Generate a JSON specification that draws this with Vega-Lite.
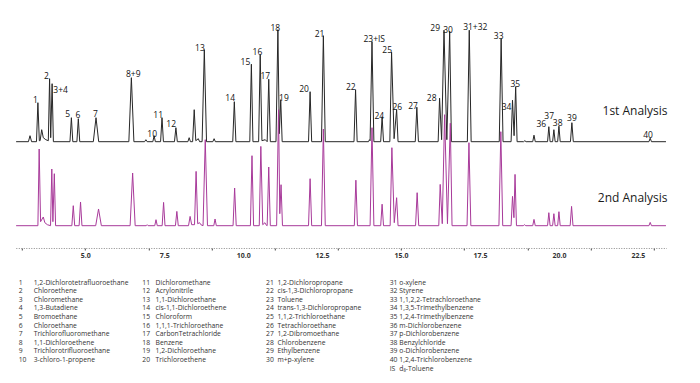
{
  "$schema": "https://vega.github.io/schema/vega-lite/v6.json",
  "padding": {"left": 13.8, "top": 0, "right": 0, "bottom": 0},
  "background": "white",
  "config": {"view": {"stroke": null}, "font": "Open Sans", "axis": {"labelOverlap": false}},
  "datasets": {
    "run1": [
      {"time":2.81,"signal":0},
      {"time":3.2,"signal":0},{"time":3.25,"signal":6},{"time":3.3,"signal":0},
      {"time":3.455,"signal":0},{"time":3.5,"signal":39},{"time":3.545,"signal":1},
      {"time":3.57,"signal":1},{"time":3.62,"signal":12},{"time":3.67,"signal":4},{"time":3.75,"signal":2},{"time":3.83,"signal":1},
      {"time":3.87,"signal":63},{"time":3.905,"signal":4},{"time":3.95,"signal":58},{"time":3.99,"signal":0},
      {"time":4.515,"signal":0},{"time":4.56,"signal":24},{"time":4.605,"signal":0},
      {"time":4.735,"signal":0},{"time":4.78,"signal":23},{"time":4.825,"signal":0},
      {"time":5.255,"signal":0},{"time":5.34,"signal":24},{"time":5.425,"signal":0},
      {"time":6.38,"signal":0},{"time":6.46,"signal":64},{"time":6.54,"signal":0},
      {"time":6.88,"signal":0},{"time":6.92,"signal":2},{"time":6.96,"signal":0},
      {"time":7.14,"signal":0},{"time":7.18,"signal":6},{"time":7.22,"signal":0},
      {"time":7.385,"signal":0},{"time":7.43,"signal":24},{"time":7.475,"signal":0},
      {"time":7.825,"signal":0},{"time":7.87,"signal":14},{"time":7.915,"signal":0},
      {"time":8.25,"signal":0},{"time":8.29,"signal":4},{"time":8.33,"signal":0},
      {"time":8.4,"signal":0},{"time":8.45,"signal":32},{"time":8.5,"signal":1},{"time":8.58,"signal":3},{"time":8.62,"signal":0},
      {"time":8.7,"signal":0},{"time":8.77,"signal":92},{"time":8.84,"signal":0},
      {"time":9.04,"signal":0},{"time":9.08,"signal":3},{"time":9.12,"signal":0},
      {"time":9.67,"signal":0},{"time":9.72,"signal":40},{"time":9.77,"signal":0},
      {"time":10.21,"signal":0},{"time":10.26,"signal":77.5},{"time":10.31,"signal":0},
      {"time":10.49,"signal":0},{"time":10.54,"signal":87},{"time":10.595,"signal":1},{"time":10.7,"signal":2},{"time":10.76,"signal":0},{"time":10.81,"signal":62.5},{"time":10.86,"signal":0},
      {"time":11.04,"signal":0},{"time":11.1,"signal":112},{"time":11.145,"signal":8},{"time":11.19,"signal":42},{"time":11.235,"signal":0},
      {"time":12.07,"signal":0},{"time":12.12,"signal":50},{"time":12.17,"signal":0},
      {"time":12.48,"signal":0},{"time":12.54,"signal":106},{"time":12.6,"signal":0},
      {"time":13.51,"signal":0},{"time":13.56,"signal":52},{"time":13.61,"signal":0},
      {"time":13.97,"signal":0},{"time":14.0,"signal":2},{"time":14.02,"signal":1},{"time":14.08,"signal":100},{"time":14.14,"signal":0},
      {"time":14.355,"signal":0},{"time":14.4,"signal":25},{"time":14.445,"signal":0},
      {"time":14.645,"signal":0},{"time":14.7,"signal":89.5},{"time":14.78,"signal":3},{"time":14.86,"signal":32},{"time":14.905,"signal":0},
      {"time":15.45,"signal":0},{"time":15.5,"signal":34.5},{"time":15.55,"signal":0},
      {"time":16.175,"signal":0},{"time":16.22,"signal":43.5},{"time":16.285,"signal":2},{"time":16.36,"signal":111.5},{"time":16.45,"signal":2},{"time":16.54,"signal":110.5},{"time":16.595,"signal":0},
      {"time":17.1,"signal":0},{"time":17.16,"signal":111.5},{"time":17.22,"signal":0},
      {"time":18.11,"signal":0},{"time":18.17,"signal":103},{"time":18.23,"signal":0},
      {"time":18.485,"signal":0},{"time":18.53,"signal":41.5},{"time":18.58,"signal":6},{"time":18.63,"signal":55},{"time":18.675,"signal":0},
      {"time":18.88,"signal":0},{"time":18.92,"signal":1},{"time":18.96,"signal":0},
      {"time":19.17,"signal":0},{"time":19.21,"signal":6.5},{"time":19.25,"signal":0},
      {"time":19.64,"signal":0},{"time":19.68,"signal":15},{"time":19.72,"signal":0},
      {"time":19.8,"signal":0},{"time":19.84,"signal":12},{"time":19.88,"signal":0},
      {"time":19.96,"signal":0},{"time":20.0,"signal":15.5},{"time":20.04,"signal":0},
      {"time":20.365,"signal":0},{"time":20.41,"signal":19},{"time":20.455,"signal":0},
      {"time":22.85,"signal":0},{"time":22.89,"signal":3.5},{"time":22.93,"signal":0},
      {"time":23.39,"signal":0}
    ],
    "run2": [
      {"time":2.81,"signal":0},
      {"time":3.5,"signal":0},{"time":3.54,"signal":76.7},{"time":3.585,"signal":4},{"time":3.67,"signal":8.7},{"time":3.72,"signal":3},{"time":3.8,"signal":1},
      {"time":3.9,"signal":0},{"time":3.94,"signal":56.7},{"time":3.975,"signal":4},{"time":4.02,"signal":52},{"time":4.06,"signal":0},
      {"time":4.575,"signal":0},{"time":4.62,"signal":20},{"time":4.665,"signal":0},
      {"time":4.805,"signal":0},{"time":4.85,"signal":23.7},{"time":4.895,"signal":0},
      {"time":5.33,"signal":0},{"time":5.42,"signal":16.7},{"time":5.51,"signal":0},
      {"time":6.42,"signal":0},{"time":6.5,"signal":52.7},{"time":6.58,"signal":0},
      {"time":6.93,"signal":0},{"time":6.96,"signal":1},{"time":6.99,"signal":0},
      {"time":7.2,"signal":0},{"time":7.24,"signal":6},{"time":7.28,"signal":0},
      {"time":7.435,"signal":0},{"time":7.48,"signal":23.3},{"time":7.525,"signal":0},
      {"time":7.855,"signal":0},{"time":7.9,"signal":14.3},{"time":7.945,"signal":0},
      {"time":8.27,"signal":0},{"time":8.32,"signal":9.3},{"time":8.37,"signal":1},{"time":8.46,"signal":1},{"time":8.51,"signal":54.3},{"time":8.56,"signal":2},{"time":8.62,"signal":3},{"time":8.66,"signal":1},
      {"time":8.73,"signal":0},{"time":8.8,"signal":86},{"time":8.87,"signal":0},
      {"time":9.07,"signal":0},{"time":9.11,"signal":6.7},{"time":9.15,"signal":0},
      {"time":9.68,"signal":0},{"time":9.73,"signal":37.7},{"time":9.78,"signal":0},
      {"time":10.23,"signal":0},{"time":10.28,"signal":70},{"time":10.33,"signal":0},
      {"time":10.51,"signal":0},{"time":10.56,"signal":79.3},{"time":10.62,"signal":1},{"time":10.69,"signal":3},{"time":10.72,"signal":1},{"time":10.76,"signal":0},{"time":10.81,"signal":58.7},{"time":10.86,"signal":0},
      {"time":11.06,"signal":0},{"time":11.12,"signal":116},{"time":11.16,"signal":12},{"time":11.2,"signal":41},{"time":11.245,"signal":0},
      {"time":12.07,"signal":0},{"time":12.12,"signal":47},{"time":12.17,"signal":0},
      {"time":12.48,"signal":0},{"time":12.54,"signal":96.7},{"time":12.6,"signal":0},
      {"time":13.52,"signal":0},{"time":13.57,"signal":45.5},{"time":13.62,"signal":0},
      {"time":14.02,"signal":0},{"time":14.08,"signal":98},{"time":14.14,"signal":0},
      {"time":14.355,"signal":0},{"time":14.4,"signal":21.5},{"time":14.445,"signal":0},
      {"time":14.655,"signal":0},{"time":14.71,"signal":78},{"time":14.785,"signal":3},{"time":14.86,"signal":28},{"time":14.905,"signal":0},
      {"time":15.46,"signal":0},{"time":15.51,"signal":33},{"time":15.56,"signal":0},
      {"time":16.195,"signal":0},{"time":16.24,"signal":41.3},{"time":16.305,"signal":2},{"time":16.38,"signal":111},{"time":16.47,"signal":2},{"time":16.56,"signal":102.5},{"time":16.615,"signal":0},
      {"time":17.09,"signal":0},{"time":17.15,"signal":83},{"time":17.21,"signal":0},
      {"time":18.1,"signal":0},{"time":18.16,"signal":94},{"time":18.22,"signal":0},
      {"time":18.485,"signal":0},{"time":18.53,"signal":29.3},{"time":18.575,"signal":8},{"time":18.61,"signal":51.3},{"time":18.655,"signal":0},
      {"time":18.87,"signal":0},{"time":18.91,"signal":1},{"time":18.95,"signal":0},
      {"time":19.17,"signal":0},{"time":19.21,"signal":6.3},{"time":19.25,"signal":0},
      {"time":19.64,"signal":0},{"time":19.68,"signal":13},{"time":19.72,"signal":0},
      {"time":19.8,"signal":0},{"time":19.84,"signal":12},{"time":19.88,"signal":0},
      {"time":19.96,"signal":0},{"time":20.0,"signal":14},{"time":20.04,"signal":0},
      {"time":20.355,"signal":0},{"time":20.4,"signal":19.3},{"time":20.445,"signal":0},
      {"time":22.85,"signal":0},{"time":22.89,"signal":3.3},{"time":22.93,"signal":0},
      {"time":23.39,"signal":0}
    ],
    "peaks": [
      {"label":"1","time":3.42,"signal":42.2},
      {"label":"2","time":3.77,"signal":65.8},
      {"label":"3+4","time":4.22,"signal":51.5},
      {"label":"5","time":4.44,"signal":28.2},
      {"label":"6","time":4.77,"signal":27.2},
      {"label":"7","time":5.32,"signal":28.2},
      {"label":"8+9","time":6.52,"signal":68.2},
      {"label":"10","time":7.12,"signal":7.8},
      {"label":"11","time":7.31,"signal":27.2},
      {"label":"12","time":7.72,"signal":18.2},
      {"label":"13","time":8.63,"signal":94.2},
      {"label":"14","time":9.59,"signal":44},
      {"label":"15","time":10.07,"signal":79.5},
      {"label":"16","time":10.45,"signal":89.8},
      {"label":"17","time":10.7,"signal":66.2},
      {"label":"18","time":11.02,"signal":113.8},
      {"label":"19","time":11.29,"signal":43.8},
      {"label":"20","time":11.93,"signal":52.8},
      {"label":"21","time":12.42,"signal":107.8},
      {"label":"22","time":13.41,"signal":54.8},
      {"label":"23+IS","time":14.15,"signal":102.5},
      {"label":"24","time":14.31,"signal":25.8},
      {"label":"25","time":14.56,"signal":91.8},
      {"label":"26","time":14.88,"signal":34.5},
      {"label":"27","time":15.38,"signal":36.2},
      {"label":"28","time":15.97,"signal":44.2},
      {"label":"29","time":16.08,"signal":113.5},
      {"label":"30","time":16.49,"signal":112.2},
      {"label":"31+32","time":17.35,"signal":114.8},
      {"label":"33","time":18.09,"signal":105.5},
      {"label":"34","time":18.34,"signal":34.8},
      {"label":"35","time":18.62,"signal":58.2},
      {"label":"36","time":19.44,"signal":17.5},
      {"label":"37","time":19.69,"signal":25.5},
      {"label":"38","time":19.96,"signal":18.5},
      {"label":"39","time":20.41,"signal":24.2},
      {"label":"40","time":22.82,"signal":6.8}
    ],
    "runs": [
      {"run":"1st Analysis","time":23.44,"signal":30.7},
      {"run":"2nd Analysis","time":23.44,"signal":27.4}
    ],
    "compounds": [
      {"col":0,"row":0,"no":"1","name":"1,2-Dichlorotetrafluoroethane"},
      {"col":0,"row":1,"no":"2","name":"Chloroethene"},
      {"col":0,"row":2,"no":"3","name":"Chloromethane"},
      {"col":0,"row":3,"no":"4","name":"1,3-Butadiene"},
      {"col":0,"row":4,"no":"5","name":"Bromoethane"},
      {"col":0,"row":5,"no":"6","name":"Chloroethane"},
      {"col":0,"row":6,"no":"7","name":"Trichlorofluoromethane"},
      {"col":0,"row":7,"no":"8","name":"1,1-Dichloroethene"},
      {"col":0,"row":8,"no":"9","name":"Trichlorotrifluoroethane"},
      {"col":0,"row":9,"no":"10","name":"3-chloro-1-propene"},
      {"col":1,"row":0,"no":"11","name":"Dichloromethane"},
      {"col":1,"row":1,"no":"12","name":"Acrylonitrile"},
      {"col":1,"row":2,"no":"13","name":"1,1-Dichloroethane"},
      {"col":1,"row":3,"no":"14","name":"cis-1,1-Dichloroethene"},
      {"col":1,"row":4,"no":"15","name":"Chloroform"},
      {"col":1,"row":5,"no":"16","name":"1,1,1-Trichloroethane"},
      {"col":1,"row":6,"no":"17","name":"CarbonTetrachloride"},
      {"col":1,"row":7,"no":"18","name":"Benzene"},
      {"col":1,"row":8,"no":"19","name":"1,2-Dichloroethane"},
      {"col":1,"row":9,"no":"20","name":"Trichloroethene"},
      {"col":2,"row":0,"no":"21","name":"1,2-Dichloropropane"},
      {"col":2,"row":1,"no":"22","name":"cis-1,3-Dichloropropane"},
      {"col":2,"row":2,"no":"23","name":"Toluene"},
      {"col":2,"row":3,"no":"24","name":"trans-1,3-Dichloropropane"},
      {"col":2,"row":4,"no":"25","name":"1,1,2-Trichloroethane"},
      {"col":2,"row":5,"no":"26","name":"Tetrachloroethane"},
      {"col":2,"row":6,"no":"27","name":"1,2-Dibromoethane"},
      {"col":2,"row":7,"no":"28","name":"Chlorobenzene"},
      {"col":2,"row":8,"no":"29","name":"Ethylbenzene"},
      {"col":2,"row":9,"no":"30","name":"m+p-xylene"},
      {"col":3,"row":0,"no":"31","name":"o-xylene"},
      {"col":3,"row":1,"no":"32","name":"Styrene"},
      {"col":3,"row":2,"no":"33","name":"1,1,2,2-Tetrachloroethane"},
      {"col":3,"row":3,"no":"34","name":"1,3,5-Trimethylbenzene"},
      {"col":3,"row":4,"no":"35","name":"1,2,4-Trimethylbenzene"},
      {"col":3,"row":5,"no":"36","name":"m-Dichlorobenzene"},
      {"col":3,"row":6,"no":"37","name":"p-Dichlorobenzene"},
      {"col":3,"row":7,"no":"38","name":"Benzylchloride"},
      {"col":3,"row":8,"no":"39","name":"o-Dichlorobenzene"},
      {"col":3,"row":9,"no":"40","name":"1,2,4-Trichlorobenzene"},
      {"col":3,"row":10,"no":"IS","name":"d₈-Toluene"}
    ]
  },
  "bounds": "flush",
  "spacing": 34.7,
  "vconcat": [
    {
      "width": 650.5,
      "height": 248,
      "layer": [
        {
          "layer": [
            {
              "data": {"name": "run1"},
              "mark": {"type": "line", "color": "#262626", "strokeWidth": 1},
              "encoding": {
                "x": {"field": "time", "type": "quantitative",
                  "scale": {"domain": [2.8, 23.4], "nice": false, "zero": false},
                  "axis": {"title": null, "grid": false, "orient": "bottom",
                    "values": [5, 7.5, 10, 12.5, 15, 17.5, 20, 22.5],
                    "format": ".1f",
                    "labelOverlap": false, "labelFlush": false, "labelBound": false,
                    "domain": false, "ticks": false,
                    "labelFontSize": 7, "labelColor": "#333", "labelFont": "Open Sans", "labelFontWeight": "bold", "labelPadding": 4}},
                "y": {"field": "signal", "type": "quantitative",
                  "scale": {"domain": [-106.3, 141.7], "nice": false, "zero": false}, "axis": null}
              }
            },
            {
              "data": {"name": "peaks"},
              "mark": {"type": "text", "fontSize": 8.5, "color": "#111", "align": "center", "baseline": "middle", "font": "Open Sans"},
              "encoding": {
                "x": {"field": "time", "type": "quantitative"},
                "y": {"field": "signal", "type": "quantitative"},
                "text": {"field": "label"}
              }
            },
            {
              "data": {"name": "runs"},
              "transform": [{"filter": "datum.run === '1st Analysis'"}],
              "mark": {"type": "text", "fontSize": 12, "color": "#1a1a1a", "align": "right", "baseline": "middle", "font": "Open Sans"},
              "encoding": {
                "x": {"field": "time", "type": "quantitative"},
                "y": {"field": "signal", "type": "quantitative"},
                "text": {"field": "run"}
              }
            }
          ]
        },
        {
          "layer": [
            {
              "data": {"name": "run2"},
              "mark": {"type": "line", "color": "#a8399a", "strokeWidth": 1},
              "encoding": {
                "x": {"field": "time", "type": "quantitative",
                  "axis": {"title": null, "grid": false, "orient": "bottom",
                    "values": [3,3.5,4,4.5,5,5.5,6,6.5,7,7.5,8,8.5,9,9.5,10,10.5,11,11.5,12,12.5,13,13.5,14,14.5,15,15.5,16,16.5,17,17.5,18,18.5,19,19.5,20,20.5,21,21.5,22,22.5,23],
                    "labels": false,
                    "domainColor": "#8a8a8a", "domainDash": [1, 1.5], "domainWidth": 1,
                    "tickColor": "#444", "tickSize": 2, "tickWidth": 1}},
                "y": {"field": "signal", "type": "quantitative",
                  "scale": {"domain": [-22.3, 225.7], "nice": false, "zero": false}, "axis": null}
              }
            },
            {
              "data": {"name": "runs"},
              "transform": [{"filter": "datum.run === '2nd Analysis'"}],
              "mark": {"type": "text", "fontSize": 12, "color": "#1a1a1a", "align": "right", "baseline": "middle", "font": "Open Sans"},
              "encoding": {
                "x": {"field": "time", "type": "quantitative"},
                "y": {"field": "signal", "type": "quantitative"},
                "text": {"field": "run"}
              }
            }
          ]
        }
      ],
      "resolve": {"scale": {"y": "independent"}, "axis": {"x": "independent", "y": "independent"}}
    },
    {
      "width": 500,
      "height": 86,
      "data": {"name": "compounds"},
      "layer": [
        {
          "mark": {"type": "text", "align": "left", "baseline": "middle", "fontSize": 6.8, "color": "#333", "font": "Open Sans"},
          "encoding": {
            "x": {"field": "col", "type": "quantitative", "scale": {"domain": [0, 3], "range": [2.9, 373.9]}, "axis": null},
            "y": {"field": "row", "type": "quantitative", "scale": {"domain": [0, 10], "range": [0, 85.9]}, "axis": null},
            "text": {"field": "no"}
          }
        },
        {
          "mark": {"type": "text", "align": "left", "baseline": "middle", "fontSize": 6.8, "color": "#333", "font": "Open Sans"},
          "encoding": {
            "x": {"field": "col", "type": "quantitative", "scale": {"domain": [0, 3], "range": [17.9, 383.5]}, "axis": null},
            "y": {"field": "row", "type": "quantitative", "scale": {"domain": [0, 10], "range": [0, 85.9]}, "axis": null},
            "text": {"field": "name"}
          }
        }
      ],
      "resolve": {"scale": {"x": "independent"}}
    }
  ]
}
